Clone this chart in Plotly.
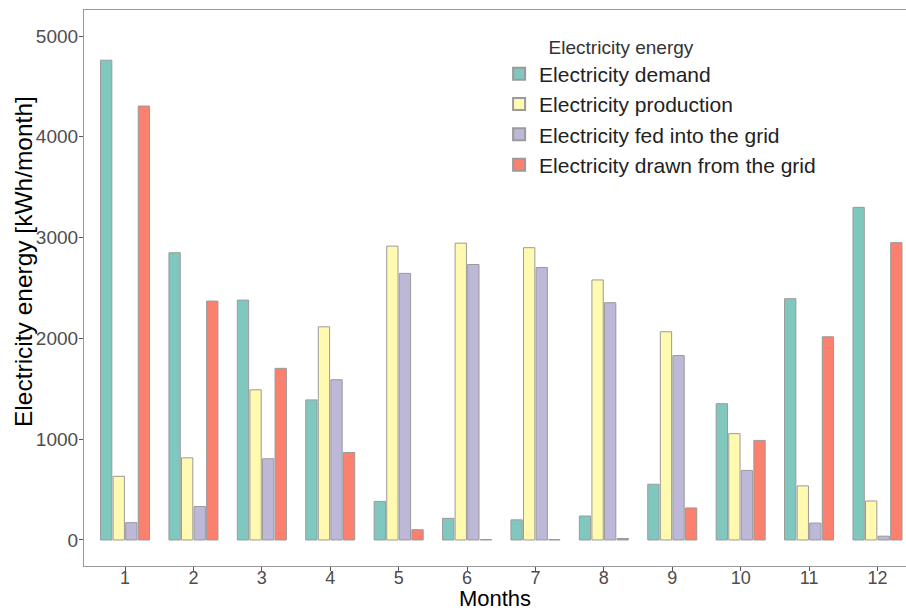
import plotly.graph_objects as go

months = [1, 2, 3, 4, 5, 6, 7, 8, 9, 10, 11, 12]
month_labels = [str(m) for m in months]

demand = [4760, 2850, 2380, 1390, 383, 215, 200, 238, 553, 1352, 2394, 3300]
production = [632, 815, 1490, 2115, 2915, 2945, 2900, 2580, 2066, 1055, 537, 387]
fed_in = [172, 332, 806, 1590, 2645, 2733, 2703, 2354, 1830, 690, 168, 38]
drawn = [4305, 2370, 1703, 868, 102, 5, 4, 15, 318, 988, 2016, 2950]

series_names = [
    "Electricity demand",
    "Electricity production",
    "Electricity fed into the grid",
    "Electricity drawn from the grid",
]
series_values = [demand, production, fed_in, drawn]
series_colors = ["#80C8BF", "#FFFAB0", "#BDB8D8", "#FC806E"]

y_ticks = [0, 1000, 2000, 3000, 4000, 5000]

fig = go.Figure()
for name, vals, col in zip(series_names, series_values, series_colors):
    fig.add_trace(go.Bar(
        x=months, y=vals, name=name,
        marker=dict(color=col, line=dict(color="#9A9A9A", width=1)),
    ))

FONT = "Liberation Sans, Arial, sans-serif"

fig.update_layout(
    width=906, height=611,
    autosize=False,
    margin=dict(l=84, r=0, t=10, b=45),
    paper_bgcolor="white",
    plot_bgcolor="white",
    barmode="group",
    bargap=0.265,
    bargroupgap=0.1,
    font=dict(family=FONT, color="#000000"),
    showlegend=True,
    legend=dict(
        x=0.505, y=0.966, xref="paper", yref="paper",
        xanchor="left", yanchor="top",
        bgcolor="rgba(0,0,0,0)",
        font=dict(size=21, color="#222222", family=FONT),
        title=dict(text="\u00a0" * 9 + "Electricity energy",
                   font=dict(size=19, color="#333333", family=FONT)),
        itemsizing="constant",
        tracegroupgap=0,
    ),
    xaxis=dict(
        range=[0.4, 12.417],
        tickmode="array", tickvals=months, ticktext=month_labels,
        showgrid=False, zeroline=False,
        showline=True, linecolor="#9A9A9A", linewidth=1.2, mirror=True,
        ticks="outside", ticklen=4, tickcolor="#555555", tickwidth=1,
        ticklabelstandoff=-9,
        tickfont=dict(size=18, color="#4D4D4D", family=FONT),
        title=dict(text="Months", font=dict(size=22, color="#000000", family=FONT), standoff=0),
        automargin=False,
    ),
    yaxis=dict(
        range=[-258, 5258],
        tickmode="array", tickvals=y_ticks, ticktext=[str(v) for v in y_ticks],
        showgrid=False, zeroline=False,
        showline=True, linecolor="#9A9A9A", linewidth=1.2, mirror=False,
        ticks="outside", ticklen=4, tickcolor="#555555", tickwidth=1,
        ticklabelstandoff=-3,
        tickfont=dict(size=19, color="#4D4D4D", family=FONT),
        automargin=False,
    ),
    annotations=[dict(
        text="Electricity energy [kWh/month]",
        textangle=-90,
        xref="paper", yref="paper",
        x=(23 - 84) / 822, y=(566 - 262) / 556,
        xanchor="center", yanchor="middle",
        showarrow=False,
        font=dict(size=24.5, color="#000000", family=FONT),
    )],
)

fig.write_html("out.html")
